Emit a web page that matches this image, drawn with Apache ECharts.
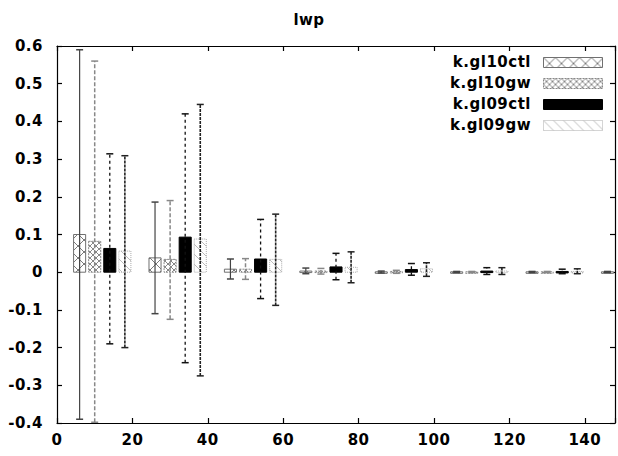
<!DOCTYPE html>
<html>
<head>
<meta charset="utf-8">
<script src="https://cdn.jsdelivr.net/npm/echarts@6/dist/echarts.min.js"></script>
<style>
html,body{margin:0;padding:0;background:#fff;}
#chart{width:618px;height:456px;}
#chart text{letter-spacing:0.5px;}
</style>
</head>
<body>
<div id="chart"></div>
<script>
// ---- data ----
const titleText = 'lwp';
const seriesNames = ['k.gl10ctl', 'k.gl10gw', 'k.gl09ctl', 'k.gl09gw'];
const xTicks = [0, 20, 40, 60, 80, 100, 120, 140];
const yTicks = [-0.4, -0.3, -0.2, -0.1, 0, 0.1, 0.2, 0.3, 0.4, 0.5, 0.6];

const xGl10ctl = [6, 26, 46, 66, 86, 106, 126, 146];
const vGl10ctl = [0.100, 0.038, 0.008, 0.003, 0.001, 0.001, 0.001, 0.001];
const loGl10ctl = [-0.390, -0.110, -0.018, -0.004, -0.002, -0.001, -0.001, -0.001];
const hiGl10ctl = [0.590, 0.186, 0.035, 0.011, 0.003, 0.002, 0.002, 0.002];

const xGl10gw = [10, 30, 50, 70, 90, 110, 130];
const vGl10gw = [0.082, 0.034, 0.008, 0.003, 0.002, 0.001, 0.001];
const loGl10gw = [-0.398, -0.125, -0.019, -0.005, -0.003, -0.001, -0.001];
const hiGl10gw = [0.560, 0.190, 0.036, 0.010, 0.005, 0.002, 0.002];

const xGl09ctl = [14, 34, 54, 74, 94, 114, 134];
const vGl09ctl = [0.063, 0.093, 0.035, 0.014, 0.007, 0.003, 0.002];
const loGl09ctl = [-0.190, -0.240, -0.070, -0.020, -0.008, -0.006, -0.004];
const hiGl09ctl = [0.314, 0.420, 0.140, 0.050, 0.023, 0.012, 0.008];

const xGl09gw = [18, 38, 58, 78, 98, 118, 138];
const vGl09gw = [0.056, 0.088, 0.034, 0.013, 0.009, 0.003, 0.002];
const loGl09gw = [-0.200, -0.275, -0.088, -0.028, -0.011, -0.006, -0.004];
const hiGl09gw = [0.309, 0.445, 0.154, 0.054, 0.025, 0.012, 0.009];

// ---- styling ----
const FONT = 'DejaVu Sans';
const barWidth = 3.2;

function makePattern(kind) {
  const c = document.createElement('canvas');
  let s;
  if (kind === 0) s = 12; else if (kind === 1) s = 6; else if (kind === 3) s = 10; else s = 4;
  c.width = s; c.height = s;
  const g = c.getContext('2d');
  g.fillStyle = '#fff'; g.fillRect(0, 0, s, s);
  if (kind === 0 || kind === 1) {
    g.strokeStyle = kind === 0 ? '#7a7a7a' : '#888';
    g.lineWidth = 1;
    g.beginPath(); g.moveTo(0, 0); g.lineTo(s, s); g.moveTo(s, 0); g.lineTo(0, s); g.stroke();
  } else if (kind === 2) {
    g.fillStyle = '#000'; g.fillRect(0, 0, s, s);
  } else {
    g.strokeStyle = '#bdbdbd'; g.lineWidth = 1;
    g.beginPath(); g.moveTo(0, 0); g.lineTo(s, s); g.stroke();
  }
  return { type: 'pattern', image: c, repeat: 'repeat' };
}
const fills = [makePattern(0), makePattern(1), makePattern(2), makePattern(3)];
const borderStyles = [
  { stroke: '#707070', lineDash: null },
  { stroke: '#888', lineDash: [2, 1] },
  { stroke: '#000', lineDash: null },
  { stroke: '#aaa', lineDash: [1, 1] }
];
const errStyles = [
  { stroke: '#444', lineWidth: 1.2, lineDash: null },
  { stroke: '#888', lineWidth: 1.5, lineDash: [4, 2] },
  { stroke: '#111', lineWidth: 1.3, lineDash: [3, 3] },
  { stroke: '#222', lineWidth: 1.6, lineDash: [3, 1] }
];

function buildData(xs, vs, los, his) {
  return xs.map((x, i) => [x, vs[i], los[i], his[i]]);
}
const allData = [
  buildData(xGl10ctl, vGl10ctl, loGl10ctl, hiGl10ctl),
  buildData(xGl10gw, vGl10gw, loGl10gw, hiGl10gw),
  buildData(xGl09ctl, vGl09ctl, loGl09ctl, hiGl09ctl),
  buildData(xGl09gw, vGl09gw, loGl09gw, hiGl09gw)
];

function makeRender(si) {
  return function (params, api) {
    const x = api.value(0), v = api.value(1), lo = api.value(2), hi = api.value(3);
    const p0 = api.coord([x, 0]);
    const pv = api.coord([x, v]);
    const pl = api.coord([x, lo]);
    const ph = api.coord([x, hi]);
    const w = api.size([barWidth, 0])[0];
    const top = Math.min(p0[1], pv[1]);
    const h = Math.max(Math.abs(p0[1] - pv[1]), 1.5);
    const cap = 3.5;
    const es = errStyles[si], bs = borderStyles[si];
    return {
      type: 'group',
      children: [
        { type: 'rect', shape: { x: p0[0] - w / 2, y: top, width: w, height: h },
          style: { fill: fills[si], stroke: bs.stroke, lineWidth: 1, lineDash: bs.lineDash } },
        { type: 'line', shape: { x1: pl[0], y1: pl[1], x2: ph[0], y2: ph[1] },
          style: { stroke: es.stroke, lineWidth: es.lineWidth, lineDash: es.lineDash } },
        { type: 'line', shape: { x1: ph[0] - cap, y1: ph[1], x2: ph[0] + cap, y2: ph[1] },
          style: { stroke: es.stroke, lineWidth: 1.5 } },
        { type: 'line', shape: { x1: pl[0] - cap, y1: pl[1], x2: pl[0] + cap, y2: pl[1] },
          style: { stroke: es.stroke, lineWidth: 1.5 } }
      ]
    };
  };
}

// legend as graphics
const legendGraphics = [];
seriesNames.forEach((name, i) => {
  const y = 62 + i * 21;
  legendGraphics.push({
    type: 'text', x: 531, y: y,
    style: { text: name, font: 'bold 15px "' + FONT + '"', fill: '#000', align: 'right', verticalAlign: 'middle' }
  });
  legendGraphics.push({
    type: 'rect', left: 543, top: y - 5, shape: { x: 0, y: 0, width: 59, height: 10 },
    style: { fill: fills[i], stroke: borderStyles[i].stroke, lineWidth: 1, lineDash: borderStyles[i].lineDash }
  });
});

const chart = echarts.init(document.getElementById('chart'), null, { renderer: 'svg' });
const axisCommon = {
  axisLine: { show: true, onZero: false, lineStyle: { color: '#000', width: 1.2 } },
  axisTick: { show: true, inside: true, length: 5, lineStyle: { color: '#000', width: 1.2 } },
  splitLine: { show: false }
};
const labelFont = { fontFamily: FONT, fontSize: 15, fontWeight: 'bold', color: '#000' };
chart.setOption({
  animation: false,
  backgroundColor: '#fff',
  title: { text: titleText, left: 'center', top: 7,
    textStyle: { fontFamily: FONT, fontSize: 15, fontWeight: 'bold', color: '#000' } },
  grid: { left: 57, right: 0, top: 46, bottom: 33 },
  xAxis: [
    Object.assign({ type: 'value', position: 'bottom', min: xTicks[0], max: 148, interval: 20,
      axisLabel: Object.assign({ margin: 9,
        formatter: v => (xTicks.indexOf(v) >= 0 ? String(v) : '') }, labelFont) }, axisCommon),
    Object.assign({ type: 'value', position: 'top', min: xTicks[0], max: 148, interval: 20,
      axisLabel: { show: false } }, axisCommon)
  ],
  yAxis: [
    Object.assign({ type: 'value', position: 'left', min: yTicks[0], max: yTicks[yTicks.length - 1], interval: 0.1,
      axisLabel: Object.assign({ margin: 14,
        formatter: v => String(+v.toFixed(1)) }, labelFont) }, axisCommon),
    Object.assign({ type: 'value', position: 'right', min: yTicks[0], max: yTicks[yTicks.length - 1], interval: 0.1,
      axisLabel: { show: false } }, axisCommon)
  ],
  series: seriesNames.map((name, si) => ({
    type: 'custom', name: name, xAxisIndex: 0, yAxisIndex: 0, clip: true,
    renderItem: makeRender(si),
    encode: { x: 0, y: [1, 2, 3] },
    data: allData[si]
  })),
  graphic: legendGraphics
});
</script>
</body>
</html>
